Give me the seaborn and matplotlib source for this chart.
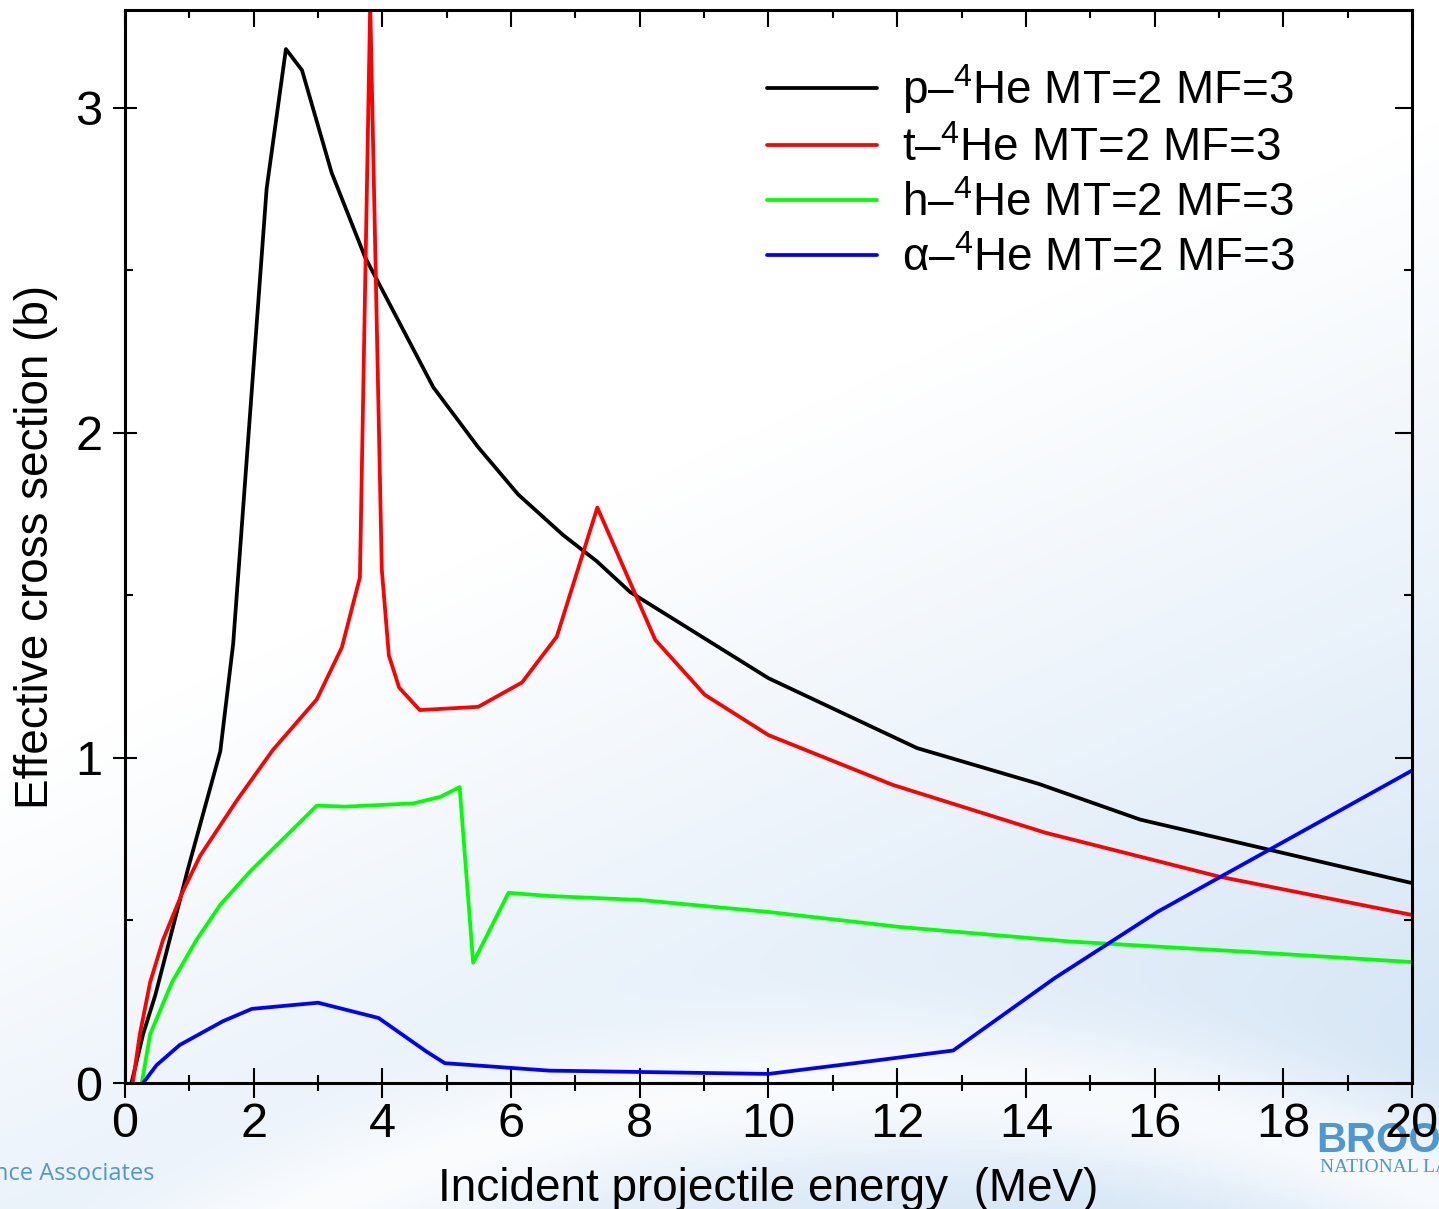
import numpy as np
import pandas as pd
import matplotlib
matplotlib.use("Agg")
import matplotlib.pyplot as plt
from matplotlib.ticker import MultipleLocator
import seaborn as sns

# p - 4He
p_E = [0.1, 0.28, 0.47, 0.98, 1.48, 1.68, 2.2, 2.5, 2.75, 3.21, 3.73, 4.79, 5.49, 6.11,
       6.81, 7.33, 7.85, 10.0, 12.31, 14.2, 15.78, 20.0]
p_sig = [0.0, 0.15, 0.27, 0.66, 1.02, 1.35, 2.75, 3.18, 3.115, 2.80, 2.54, 2.14, 1.955, 1.81,
         1.685, 1.605, 1.51, 1.245, 1.03, 0.92, 0.81, 0.615]
# t - 4He
t_E = [0.12, 0.23, 0.39, 0.59, 0.9, 1.17, 1.74, 2.3, 2.98, 3.37, 3.65, 3.81, 3.99, 4.1,
       4.26, 4.58, 5.49, 6.17, 6.71, 7.34, 8.24, 9.01, 10.0, 11.93, 14.3, 17.0, 20.0]
t_sig = [0.0, 0.15, 0.31, 0.44, 0.59, 0.70, 0.87, 1.025, 1.18, 1.34, 1.555, 3.32, 1.58, 1.315,
         1.216, 1.147, 1.157, 1.232, 1.373, 1.77, 1.363, 1.194, 1.07, 0.917, 0.77, 0.635, 0.517]
# h - 4He
h_E = [0.26, 0.39, 0.73, 1.11, 1.48, 1.94, 2.98, 3.42, 4.48, 4.9, 5.2, 5.41, 5.96, 6.6,
       8.0, 10.0, 12.04, 14.7, 17.4, 20.0]
h_sig = [0.0, 0.15, 0.31, 0.44, 0.548, 0.65, 0.853, 0.85, 0.86, 0.88, 0.91, 0.37, 0.585, 0.575,
         0.563, 0.526, 0.48, 0.435, 0.404, 0.372]
# alpha - 4He
a_E = [0.28, 0.49, 0.85, 1.52, 1.97, 3.0, 3.94, 4.69, 4.97, 6.6, 7.0, 10.0, 11.5, 12.87,
       14.45, 16.05, 20.0]
a_sig = [0.0, 0.055, 0.117, 0.19, 0.228, 0.247, 0.2, 0.096, 0.061, 0.038, 0.037, 0.028, 0.065, 0.1,
         0.323, 0.527, 0.961]

labels = ["p\u2013$^{4}$He MT=2 MF=3", "t\u2013$^{4}$He MT=2 MF=3",
          "h\u2013$^{4}$He MT=2 MF=3", "\u03b1\u2013$^{4}$He MT=2 MF=3"]
colors = ["#000000", "#ff0000", "#00ff00", "#0000ff"]

frames = []
for lab, E, s in zip(labels, [p_E, t_E, h_E, a_E], [p_sig, t_sig, h_sig, a_sig]):
    frames.append(pd.DataFrame({"E": E, "sig": s, "series": lab}))
df = pd.concat(frames, ignore_index=True)

sns.set_style("ticks")
plt.rcParams["font.family"] = ["Liberation Sans", "DejaVu Sans"]
plt.rcParams["mathtext.fontset"] = "custom"
plt.rcParams["mathtext.rm"] = "Liberation Sans"
plt.rcParams["mathtext.it"] = "Liberation Sans:italic"
plt.rcParams["mathtext.bf"] = "Liberation Sans:bold"
for k in ["text.color", "axes.labelcolor", "xtick.color", "ytick.color", "axes.edgecolor"]:
    plt.rcParams[k] = "black"

fig = plt.figure(figsize=(14.39, 12.09), dpi=100)

# light blue background wash
bg = fig.add_axes([0, 0, 1, 1], zorder=-5)
yy, xx = np.mgrid[0:1:300j, 0:1:360j]
t = np.clip((xx - 0.35) * 0.7 + (yy - 0.45) * 1.3, 0, 1)
arc = np.exp(-((np.hypot(xx - 0.62, yy - 1.75) - 0.85) / 0.06) ** 2)
t = np.clip(t * (1 - 0.8 * arc), 0, 1) * 0.9
c0 = np.array([1.0, 1.0, 1.0])
c1 = np.array([0.82, 0.89, 0.96])
img = c0 + (c1 - c0) * t[..., None]
bg.imshow(img, extent=[0, 1, 0, 1], aspect="auto", origin="upper")
bg.axis("off")
bg.text(-0.004, 0.019, "nce Associates", color="#4f97cf", fontsize=17,
        family="Open Sans", transform=bg.transAxes, ha="left", va="bottom")
bg.text(0.915, 0.040, "BROOKHAVEN", color="#4f97cf", fontsize=30, fontweight="bold",
        transform=bg.transAxes, ha="left", va="bottom")
bg.text(0.917, 0.027, "NATIONAL LABORATORY", color="#4f97cf", fontsize=14,
        family="Liberation Serif", transform=bg.transAxes, ha="left", va="bottom")

ax = fig.add_axes([0.0869, 0.1042, 0.8943, 0.8875])
ax.set_facecolor("none")
sns.lineplot(data=df, x="E", y="sig", hue="series", palette=colors, sort=False,
             estimator=None, linewidth=2.7, ax=ax, legend=True)

ax.set_xlim(0, 20)
ax.set_ylim(0, 3.30)
ax.xaxis.set_major_locator(MultipleLocator(2))
ax.xaxis.set_minor_locator(MultipleLocator(1))
ax.yaxis.set_major_locator(MultipleLocator(1))
ax.yaxis.set_minor_locator(MultipleLocator(0.5))
ax.tick_params(axis="x", which="major", direction="inout", length=22, width=1.5,
               labelsize=35, pad=3)
ax.tick_params(axis="x", which="minor", direction="inout", length=11, width=1.5)
ax.tick_params(axis="y", which="major", direction="inout", length=17, width=1.5,
               labelsize=35, pad=8)
ax.tick_params(axis="y", which="minor", direction="in", length=6, width=1.5)
for sp in ax.spines.values():
    sp.set_linewidth(2.2)
    sp.set_visible(True)

top = ax.secondary_xaxis("top")
top.xaxis.set_major_locator(MultipleLocator(2))
top.xaxis.set_minor_locator(MultipleLocator(1))
top.tick_params(which="major", direction="in", length=12, width=1.5, labeltop=False)
top.tick_params(which="minor", direction="in", length=6, width=1.5)
right = ax.secondary_yaxis("right")
right.yaxis.set_major_locator(MultipleLocator(1))
right.yaxis.set_minor_locator(MultipleLocator(0.5))
right.tick_params(which="major", direction="in", length=12, width=1.5, labelright=False)
right.tick_params(which="minor", direction="in", length=6, width=1.5)

ax.set_xlabel("Incident projectile energy  (MeV)", fontsize=33, labelpad=14)
ax.set_ylabel("Effective cross section (b)", fontsize=33, labelpad=12)

handles, labs = ax.get_legend_handles_labels()
ax.legend(handles, labs, loc="upper left", bbox_to_anchor=(0.467, 0.99), frameon=False,
          fontsize=33, handlelength=2.4, handletextpad=0.55, labelspacing=0.24)

fig.savefig("out.png", dpi=100)
